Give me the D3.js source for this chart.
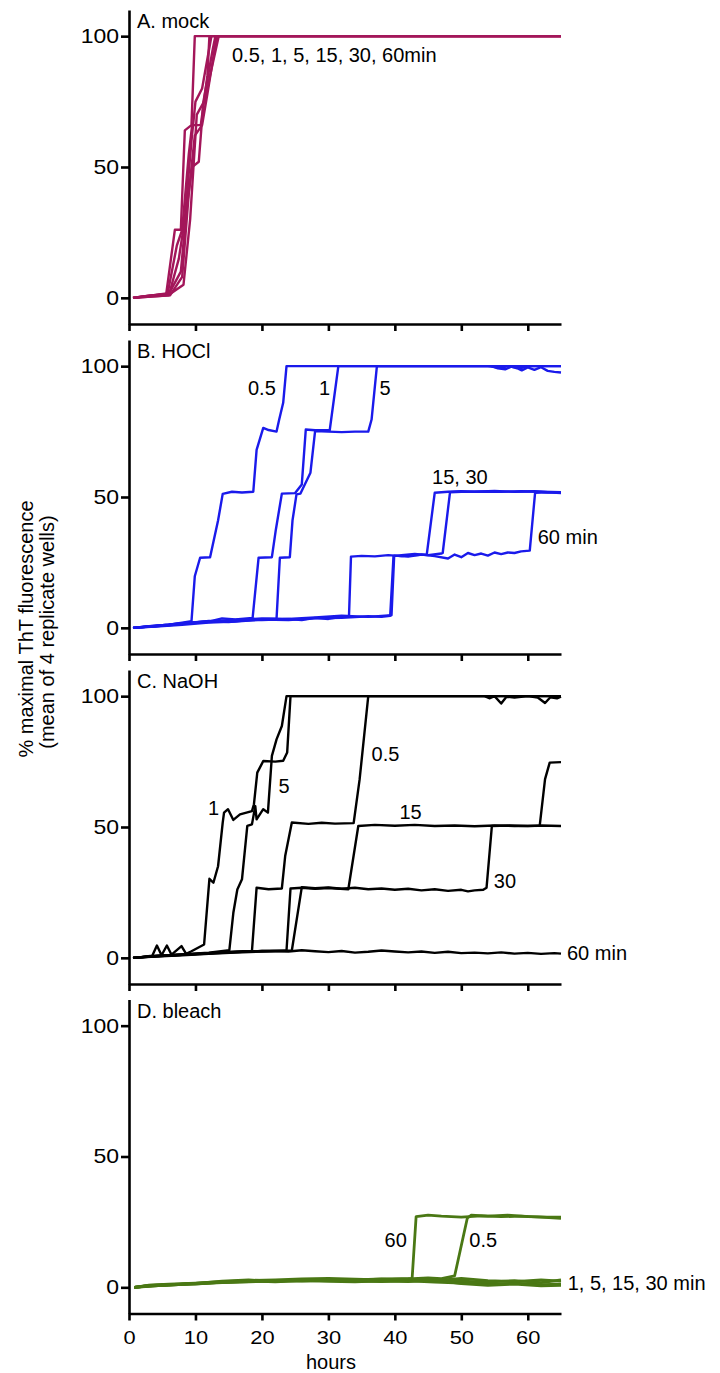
<!DOCTYPE html>
<html>
<head>
<meta charset="utf-8">
<script src="https://cdn.jsdelivr.net/npm/d3@7"></script>
<style>
  html, body { margin: 0; padding: 0; background: #fff; }
  svg { display: block; }
  text { font-family: "Liberation Sans", Arial, Helvetica, sans-serif; fill: #000; }
</style>
</head>
<body>
<svg id="chart" width="720" height="1373"></svg>
<script>
// ---------- tick labels ----------
const xTicks = [0, 10, 20, 30, 40, 50, 60];
const yTicks = [0, 50, 100];
const xDomain = [0, 65];
const yDomain = [-10, 110];
const panelTitles = ["A. mock", "B. HOCl", "C. NaOH", "D. bleach"];
const panelColors = ["#a3165a", "#1a1aeb", "#000000", "#4a7814"];

// ---------- A. mock (hours, % max ThT) ----------
const mockA1 = [[0.6,0],[2,0.5],[4,1],[5.6,1.5],[6.9,26],[7.8,26],[8.4,64],[9.4,66],[9.9,100],[65,100]];
const mockA2 = [[0.6,0],[3,0.8],[5.8,1.5],[7.2,20],[8.0,26],[9.0,55],[9.5,66],[10.8,66],[11.8,85],[12.1,100],[65,100]];
const mockA3 = [[0.6,0],[6,1],[7.5,15],[8.4,30],[9.4,60],[10.0,75],[11,80],[12.4,100],[65,100]];
const mockA4 = [[0.6,0],[6,1.5],[7.8,10],[8.7,35],[9.5,50],[10.5,52],[11.2,75],[12.6,95],[13,100],[65,100]];
const mockA5 = [[0.6,0],[6.2,1],[8,8],[9,40],[9.9,62],[11,66],[11.8,78],[13.2,100],[65,100]];
const mockA6 = [[0.6,0],[6.5,2],[8.2,5],[9.2,30],[10.2,70],[11.5,76],[12.2,85],[13.5,100],[65,100]];

// ---------- B. HOCl ----------
const hocl05 = [[0.6,0],[2,0.3],[4,0.8],[6,1.2],[8,2],[9.4,2.5],[9.9,19.7],[10.7,26.8],[12.2,27],[13.4,41],[14.1,51.2],[15.5,52],[17,51.7],[18.7,52],[19.2,68],[20.2,76.4],[21,75.6],[22.2,75],[22.6,79.6],[23.2,86],[23.7,100],[65,100]];
const hocl1 = [[0.6,0],[3,0.6],[6,1.2],[9,2],[12,2.4],[14,3.6],[16,3.2],[18.6,3.8],[19.5,26.8],[21.5,27],[22.1,37.6],[23,51.3],[25,51.5],[26,54.8],[26.6,75.8],[28,75.5],[30.2,75.5],[31.5,100],[54,100],[56,99.4],[57,100],[59,99.3],[60,100],[65,100]];
const hocl5 = [[0.6,0],[3,0.5],[6,1],[9,1.8],[12,2.6],[15,2.2],[18,3],[20,3.3],[22.2,3.5],[22.7,26.8],[24.2,27],[24.6,41],[25.2,51],[25.8,51.3],[27.3,59.3],[28,75.2],[30,75],[32,74.8],[34,75],[36,75],[36.5,79.6],[37.3,100],[54.5,100],[55.5,99.2],[56.6,98.8],[57.5,99.8],[58.4,99.2],[59.1,98.4],[60,99.5],[61,98.6],[62,99.6],[63,98.2],[64,97.8],[65,97.6]];
const hocl15 = [[0.6,0],[4,0.6],[8,1.5],[12,2.2],[16,2.8],[20,3],[24,3.4],[26,3],[28,3.8],[30,3.4],[32,4.2],[33.1,4.4],[33.4,27.2],[35,27.5],[37,27.3],[39,27.8],[41,27.4],[43,27.8],[44.8,28],[46,51.6],[48,52],[50,52.2],[52,52],[55,52.3],[58,52],[61,52.2],[63,51.8],[65,51.7]];
const hocl30 = [[0.6,0],[4,0.5],[8,1.2],[12,2],[16,2.4],[20,3.2],[24,3],[28,3.6],[32,3.8],[36,4.4],[38,4.2],[39.3,4.6],[39.8,27.4],[41,27.8],[43,28.2],[45,27.8],[47,28.4],[47.2,28.6],[48.3,51.8],[50,52],[53,52.1],[56,52],[59,52.2],[62,52],[65,51.8]];
const hocl60 = [[0.6,0],[4,0.7],[8,1.8],[12,2.5],[16,3],[20,3.6],[24,3.4],[28,4],[32,4.6],[36,4.2],[39.5,4.8],[39.9,27.6],[42,27.2],[44,28],[46,27.4],[48,26.5],[49,28],[50,27],[51,28.6],[52,27.8],[53,28.4],[54,27.6],[55,28.8],[56,28.2],[57,28.8],[58,28.6],[59,29.2],[60.3,29.5],[61.1,51.6],[63,51.8],[65,51.5]];

// ---------- C. NaOH ----------
const naoh1 = [[0.6,0],[2,0.3],[3.5,0.8],[4.2,4.7],[4.9,1],[5.7,4.7],[6.4,1.2],[7.9,4.5],[8.6,1.5],[9.4,2.5],[11.3,5.1],[12.1,30.2],[12.7,28.7],[13.4,35],[14.1,51.7],[14.3,55.5],[14.9,56.8],[15.7,52.7],[16.7,54.8],[18.5,56.1],[18.8,58.7],[19.3,70.8],[20.2,75.2],[22,75],[23.2,75.3],[23.8,78.5],[24.3,100],[65,100]];
const naoh5 = [[0.6,0],[3,0.5],[6,1],[9,1.5],[12,2],[15.1,2.9],[15.7,17.2],[16.3,26.1],[17,30],[17.8,50.4],[18.5,51],[19,58],[19.2,52.9],[20.2,56.8],[20.9,55.5],[21.5,77.2],[22.2,83.5],[23,88.6],[23.7,100],[65,100]];
const naoh05 = [[0.6,0],[4,0.8],[8,1.2],[12,1.8],[16,2.4],[18.5,2.6],[19.2,26.8],[21,26.2],[23,26.5],[23.5,38.9],[24.5,51.7],[27,51.2],[29,51.6],[31,51.3],[33.8,51.5],[34.7,68.2],[36,100],[53.5,100],[54.3,99.2],[55,100],[56,97.2],[56.8,99.8],[58,99.5],[60,100],[61.5,99.5],[62.6,97.4],[63.4,99.6],[64.4,99.2],[65,99.8]];
const naoh15 = [[0.6,0],[4,0.6],[8,1.2],[12,1.6],[16,2.2],[20,2.6],[23.7,2.8],[24.3,26.5],[26,26.8],[28,26.4],[30,26.7],[33,26.2],[34.5,50.4],[37,50.8],[40,50.5],[43,50.8],[46,50.4],[49,50.6],[52,50.3],[55,50.6],[58,50.4],[61.8,50.5],[62.6,68.3],[63.3,74.6],[65,74.8]];
const naoh30 = [[0.6,0],[4,0.5],[8,1],[12,1.5],[16,2],[20,2.4],[24.5,2.8],[26,27],[28,26.6],[30,26.9],[32,26.4],[34,26.8],[36,26.2],[38,26.5],[40,26],[42,26.4],[44,25.8],[46,26.2],[48,25.6],[50,26],[51,25.4],[52,25.8],[53.3,26],[53.8,26.8],[54.6,50.4],[57,50.6],[60,50.4],[62,50.6],[65,50.4]];
const naoh60 = [[0.6,0],[4,0.6],[8,1.2],[12,1.8],[16,2.2],[20,2.6],[24,2.4],[26,2.9],[28,2.5],[30,2.2],[32,2.6],[34,2],[36,2.3],[38,2.8],[40,2.4],[42,2.1],[44,2.4],[46,1.9],[48,2.3],[50,1.8],[52,2],[54,1.7],[56,2.1],[58,1.6],[60,1.9],[62,1.5],[64,1.8],[65,1.6]];

// ---------- D. bleach ----------
const bleach05 = [[0.8,0],[3,0.5],[6,0.9],[10,1.4],[14,1.9],[18,2.2],[22,2.4],[26,2.6],[30,2.9],[34,2.6],[38,3],[42,3.2],[45,3.6],[47,3.3],[49,4.4],[50.9,26.4],[51.5,27.6],[54,27.2],[57,27.6],[60,27],[63,26.8],[65,26.8]];
const bleach1 = [[0.8,0],[3,0.8],[6,1.2],[10,1.6],[14,2.2],[18,2.6],[22,2.8],[26,3.2],[30,3.4],[34,3.1],[38,2.8],[42,3],[46,2.6],[50,3.4],[54,2.6],[58,2.2],[62,2.8],[65,2.4]];
const bleach5 = [[0.8,0],[3,0.4],[6,1],[10,1.3],[14,1.8],[18,2.1],[22,2.6],[26,2.4],[30,2.7],[34,2.4],[38,2.2],[42,2.5],[46,2],[50,1.6],[54,1.2],[58,1.6],[62,1],[65,1.2]];
const bleach15 = [[0.8,0],[3,0.6],[6,0.8],[10,1.5],[14,2.4],[18,2.8],[22,2.4],[26,2.9],[30,3],[34,2.8],[38,3.2],[42,2.7],[46,3.1],[50,2.4],[54,2],[58,2.6],[62,1.8],[65,2.8]];
const bleach30 = [[0.8,0],[3,0.7],[6,1.1],[10,1.2],[14,2],[18,2.4],[22,2.1],[26,2.6],[30,2.3],[34,2.1],[38,2.5],[42,2.2],[46,2.8],[50,1.4],[54,0.8],[58,1.2],[62,0.6],[65,0.8]];
const bleach60 = [[0.8,0],[3,0.6],[6,1],[10,1.5],[14,2],[18,2.3],[22,2.5],[26,2.7],[30,3],[34,2.8],[38,3.1],[42.6,3.4],[43.2,27],[45,27.6],[47,27.2],[50,26.8],[53,27.3],[56,27],[59,27.2],[62,26.8],[65,26.4]];

// ---------- annotations: [hour, value, text, anchor] ----------
const labelsA = [[15.5, 90.2, "0.5, 1, 5, 15, 30, 60min", "start"]];
const labelsB = [[17.9, 89.1, "0.5", "start"], [28.6, 89.1, "1", "start"], [37.7, 89.1, "5", "start"], [45.6, 54.8, "15, 30", "start"], [61.5, 32, "60 min", "start"]];
const labelsC = [[11.9, 54.5, "1", "start"], [22.5, 63.1, "5", "start"], [36.5, 75.1, "0.5", "start"], [40.7, 52.9, "15", "start"], [54.9, 26.8, "30", "start"], [65.9, -0.9, "60 min", "start"]];
const labelsD = [[41.8, 15.5, "60", "end"], [51.2, 15.5, "0.5", "start"], [66, -1, "1, 5, 15, 30 min", "start"]];

const panelSeries = [
  [mockA1, mockA2, mockA3, mockA4, mockA5, mockA6],
  [hocl05, hocl1, hocl5, hocl15, hocl30, hocl60],
  [naoh1, naoh5, naoh05, naoh15, naoh30, naoh60],
  [bleach1, bleach5, bleach15, bleach30, bleach05, bleach60]
];
const panelLabels = [labelsA, labelsB, labelsC, labelsD];

// ---------- layout ----------
const svg = d3.select("#chart");
const axisX0 = 129, axisX1 = 561;
const panelOffsets = [0, 330, 660, 989.5];
const panelTop = 10, panelBottom = 324;
const x = d3.scaleLinear().domain(xDomain).range([axisX0, axisX1]);
const tickStretch = 1.15;

panelOffsets.forEach((off, i) => {
  const y = d3.scaleLinear().domain(yDomain).range([panelBottom + off, panelTop + off]);
  const g = svg.append("g");

  // lines
  const line = d3.line().x(d => x(d[0])).y(d => y(d[1]));
  g.append("g").selectAll("path").data(panelSeries[i]).join("path")
    .attr("d", line)
    .attr("fill", "none")
    .attr("stroke", panelColors[i])
    .attr("stroke-width", i === 3 ? 2.8 : 2.4)
    .attr("stroke-linejoin", "round");

  // y axis
  const ya = g.append("g").attr("transform", `translate(${axisX0},0)`)
    .call(d3.axisLeft(y).tickValues(yTicks).tickSize(8).tickSizeOuter(0).tickPadding(2).tickFormat(d3.format("d")));
  ya.selectAll("path, line").attr("stroke", "#000").attr("stroke-width", 2.6);
  ya.selectAll("text").attr("font-size", 20)
    .attr("font-family", "Liberation Sans, Arial, sans-serif")
    .attr("x", -10 / tickStretch).attr("transform", `scale(${tickStretch},1)`);

  // x axis
  const xa = g.append("g").attr("transform", `translate(0,${panelBottom + off})`)
    .call(d3.axisBottom(x).tickValues(xTicks).tickSize(7).tickSizeOuter(0).tickPadding(10)
      .tickFormat(i === 3 ? d3.format("d") : () => ""));
  xa.selectAll("path, line").attr("stroke", "#000").attr("stroke-width", 2.6);
  xa.selectAll("text").attr("font-size", 19)
    .attr("font-family", "Liberation Sans, Arial, sans-serif")
    .attr("transform", `scale(${tickStretch},1)`);

  // panel title
  g.append("text").attr("x", 137).attr("y", off + 28)
    .attr("font-size", 20).text(panelTitles[i]);

  // annotations
  g.append("g").selectAll("text").data(panelLabels[i]).join("text")
    .attr("x", d => x(d[0])).attr("y", d => y(d[1]))
    .attr("text-anchor", d => d[3])
    .attr("font-size", 20)
    .text(d => d[2]);
});

// x title
svg.append("text").attr("x", 331).attr("y", 1369).attr("text-anchor", "middle")
  .attr("font-size", 20).text("hours");

// y title (two lines)
svg.append("text").attr("transform", "translate(33,629) rotate(-90)")
  .attr("text-anchor", "middle").attr("font-size", 20).text("% maximal ThT fluorescence");
svg.append("text").attr("transform", "translate(54,632) rotate(-90)")
  .attr("text-anchor", "middle").attr("font-size", 20).text("(mean of 4 replicate wells)");
</script>
</body>
</html>
